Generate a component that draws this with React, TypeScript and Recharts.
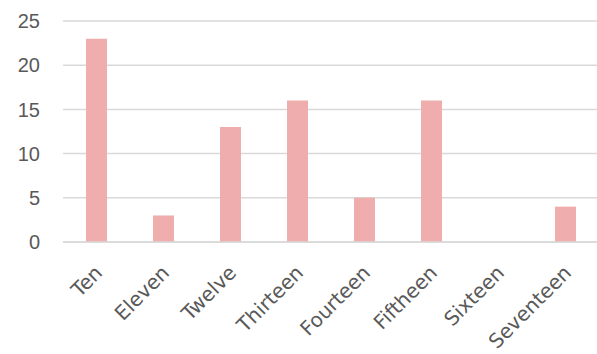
import { BarChart, Bar, XAxis, YAxis, CartesianGrid } from 'recharts'

const categories = ['Ten', 'Eleven', 'Twelve', 'Thirteen', 'Fourteen', 'Fiftheen', 'Sixteen', 'Seventeen']
const values = [23, 3, 13, 16, 5, 16, 0, 4]
const yTicks = [0, 5, 10, 15, 20, 25]

const data = categories.map((name, i) => ({ name, value: values[i] }))

const TEXT_COLOR = '#595959'

function AngledTick({ x, y, payload }: any) {
  return (
    <g transform={`translate(${x},${y})`}>
      <text
        x={0}
        y={0}
        dx={-12}
        dy={22}
        textAnchor="end"
        transform="rotate(-45)"
        fill={TEXT_COLOR}
        fontSize={20}
        fontFamily="DejaVu Sans"
      >
        {payload.value}
      </text>
    </g>
  )
}

export default function App() {
  return (
    <div style={{ position: 'absolute', left: 0, top: 0, width: 597, height: 354, overflow: 'hidden', background: '#fff' }}>
      <BarChart
        width={600}
        height={354}
        data={data}
        margin={{ top: 21, right: 1, left: 0, bottom: 12 }}
      >
        <CartesianGrid vertical={false} stroke="#d9d9d9" strokeWidth={1.5} />
        <XAxis
          dataKey="name"
          axisLine={{ stroke: '#d9d9d9', strokeWidth: 1.5 }}
          tickLine={false}
          interval={0}
          height={100}
          tick={<AngledTick />}
        />
        <YAxis
          width={63}
          domain={[0, 25]}
          ticks={yTicks}
          axisLine={false}
          tickLine={false}
          tickMargin={17}
          tick={{ fill: TEXT_COLOR, fontSize: 20, fontFamily: 'Liberation Sans' }}
        />
        <Bar dataKey="value" fill="#f0adad" barSize={21} isAnimationActive={false} />
      </BarChart>
    </div>
  )
}
